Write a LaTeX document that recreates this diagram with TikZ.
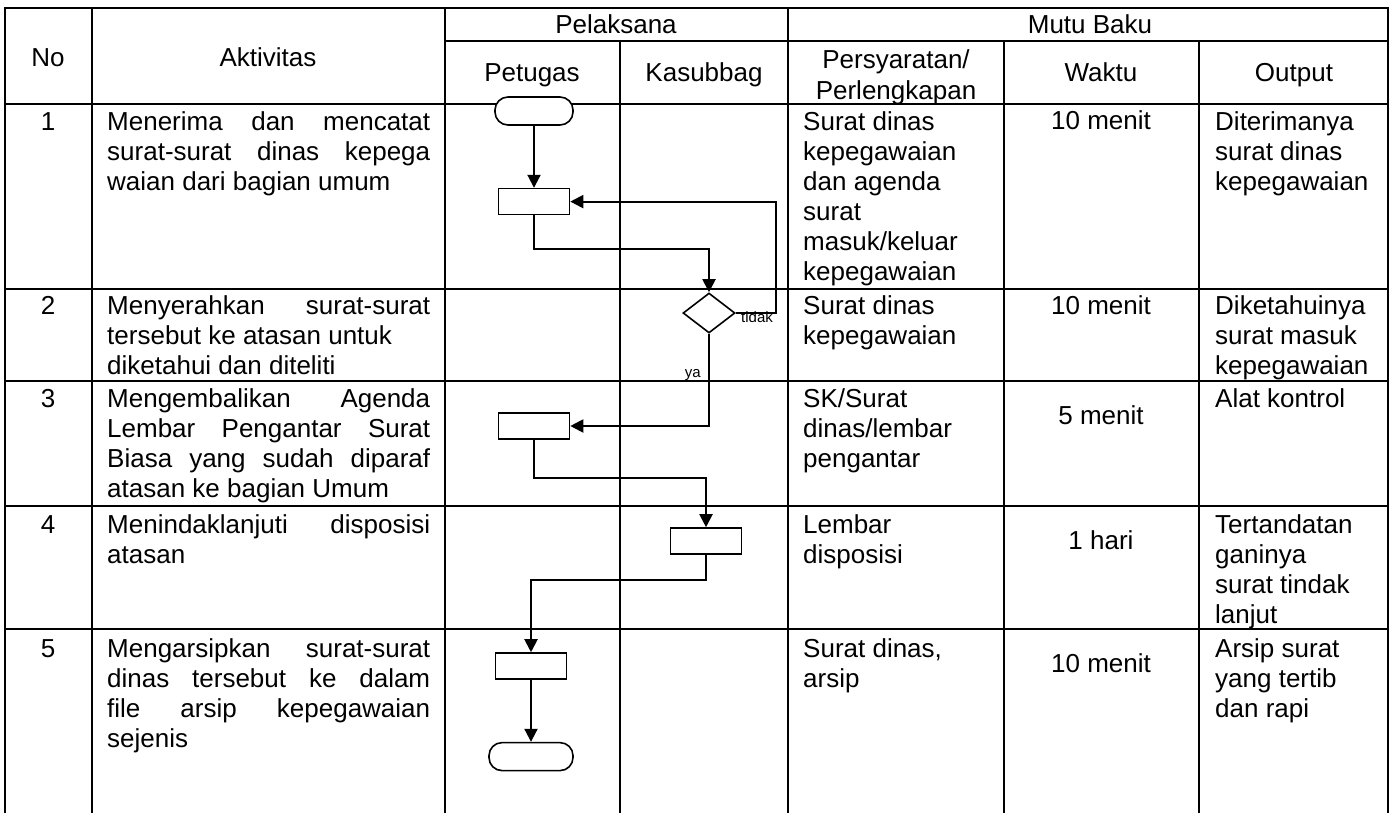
\documentclass[tikz,border=0pt]{standalone}
\usepackage{fontspec}
\setmainfont{Liberation Sans}
\usepackage{tikz}
\usetikzlibrary{positioning, arrows.meta, shapes.geometric}
\newcommand{\rata}[1]{\makebox[323pt][s]{#1}}

\begin{document}
\begin{tikzpicture}[x=1pt, y=-1pt,
      grid/.style={line width=2.6pt, line cap=rect},
      txt/.style={anchor=base, inner sep=0pt, font=\fontsize{26}{30}\selectfont},
      cell/.style={anchor=north west, inner sep=0pt, align=left,
                   font=\fontsize{26}{30}\selectfont},
      proc/.style={draw, line width=1.6pt, minimum width=71pt, minimum height=26pt, inner sep=0pt},
      term/.style={draw, fill=white, line width=1.6pt, rounded corners=13pt,
                   minimum width=78pt, minimum height=28pt, inner sep=0pt},
      decision/.style={diamond, draw, line width=1.6pt, minimum width=52pt,
                       minimum height=40pt, inner sep=0pt},
      arr/.style={-{Triangle[length=13pt, width=13pt]}, line width=2pt},
      lbl/.style={inner sep=0pt, font=\fontsize{15}{15}\selectfont}]
    \useasboundingbox (0,0) rectangle (1396,812);
    \foreach \y in {8,104,289,381,506,629} \draw[grid] (5,\y) -- (1388,\y);
    \draw[grid] (445,41) -- (1388,41);
    \foreach \x in {5,92,445,788,1388} \draw[grid] (\x,8) -- (\x,812);
    \foreach \x in {620,1004,1199} \draw[grid] (\x,41) -- (\x,812);

    \node[txt] (hno)    at (48,66)   {No};
    \node[txt] (hakt)   at (268,66)  {Aktivitas};
    \node[txt] (hpel)   at (616,33)  {Pelaksana};
    \node[txt] (hmutu)  at (1090,33) {Mutu Baku};
    \node[txt] (hpet)   at (532,81)  {Petugas};
    \node[txt] (hkas)   at (704,81)  {Kasubbag};
    \node[anchor=north, inner sep=0pt, align=center, font=\fontsize{26}{31}\selectfont]
          (hsyarat) at (896,49) {Persyaratan/\\Perlengkapan};
    \node[txt] (hwaktu) at (1101,81) {Waktu};
    \node[txt] (hout)   at (1294,81) {Output};

    \node[txt] (no1) at (48,130) {1};
    \node[txt] (no2) at (48,314) {2};
    \node[txt] (no3) at (48,407) {3};
    \node[txt] (no4) at (48,533) {4};
    \node[txt] (no5) at (48,657) {5};

    \node[cell] (akt1) at (107,111) {\rata{Menerima dan mencatat}\\\rata{surat-surat dinas kepega}\\waian dari bagian umum};
    \node[cell] (akt2) at (107,295) {\rata{Menyerahkan surat-surat}\\tersebut ke atasan untuk\\diketahui dan diteliti};
    \node[cell] (akt3) at (107,388) {\rata{Mengembalikan Agenda}\\\rata{Lembar Pengantar Surat}\\\rata{Biasa yang sudah diparaf}\\atasan ke bagian Umum};
    \node[cell] (akt4) at (107,514) {\rata{Menindaklanjuti disposisi}\\atasan};
    \node[cell] (akt5) at (107,638) {\rata{Mengarsipkan surat-surat}\\\rata{dinas tersebut ke dalam}\\\rata{file arsip kepegawaian}\\sejenis};

    \node[cell] (sy1) at (803,111) {Surat dinas\\kepegawaian\\dan agenda\\surat\\masuk/keluar\\kepegawaian};
    \node[cell] (sy2) at (803,295) {Surat dinas\\kepegawaian};
    \node[cell] (sy3) at (803,388) {SK/Surat\\dinas/lembar\\pengantar};
    \node[cell] (sy4) at (803,514) {Lembar\\disposisi};
    \node[cell] (sy5) at (803,638) {Surat dinas,\\arsip};

    \node[txt] (wk1) at (1101,129) {10 menit};
    \node[txt] (wk2) at (1101,314) {10 menit};
    \node[txt] (wk3) at (1101,424) {5 menit};
    \node[txt] (wk4) at (1101,549) {1 hari};
    \node[txt] (wk5) at (1101,672) {10 menit};

    \node[cell] (out1) at (1215,111) {Diterimanya\\surat dinas\\kepegawaian};
    \node[cell] (out2) at (1215,295) {Diketahuinya\\surat masuk\\kepegawaian};
    \node[cell] (out3) at (1215,388) {Alat kontrol};
    \node[cell] (out4) at (1215,514) {Tertandatan\\ganinya\\surat tindak\\lanjut};
    \node[cell] (out5) at (1215,638) {Arsip surat\\yang tertib\\dan rapi};

    \node[term] (mulai) at (534,111) {};
    \node[proc, below=62pt of mulai] (p1) {};
    \node[decision] (d2) at (709,313) {};
    \node[proc] (p3) at (534,426) {};
    \node[proc] (p4) at (706,541) {};
    \node[proc] (p5) at (531,666) {};
    \node[term, minimum width=84pt, below=62pt of p5] (selesai) {};
    \draw[arr] (mulai) -- (p1);
    \draw[arr] (p1.south) -- ++(0,34) -| (d2.north);
    \draw[arr] (d2.east) -- ++(40,0) |- (p1.east);
    \draw[arr] (d2.south) |- (p3.east);
    \draw[arr] (p3.south) -- ++(0,38) -| (p4.north);
    \draw[arr] (p4.south) -- ++(0,25) -| (p5.north);
    \draw[arr] (p5) -- (selesai);
    \node[lbl, anchor=base west] (ltidak) at (741,322) {tidak};
    \node[lbl, anchor=base east] (lya) at (701,377) {ya};
  \end{tikzpicture}
\end{document}
